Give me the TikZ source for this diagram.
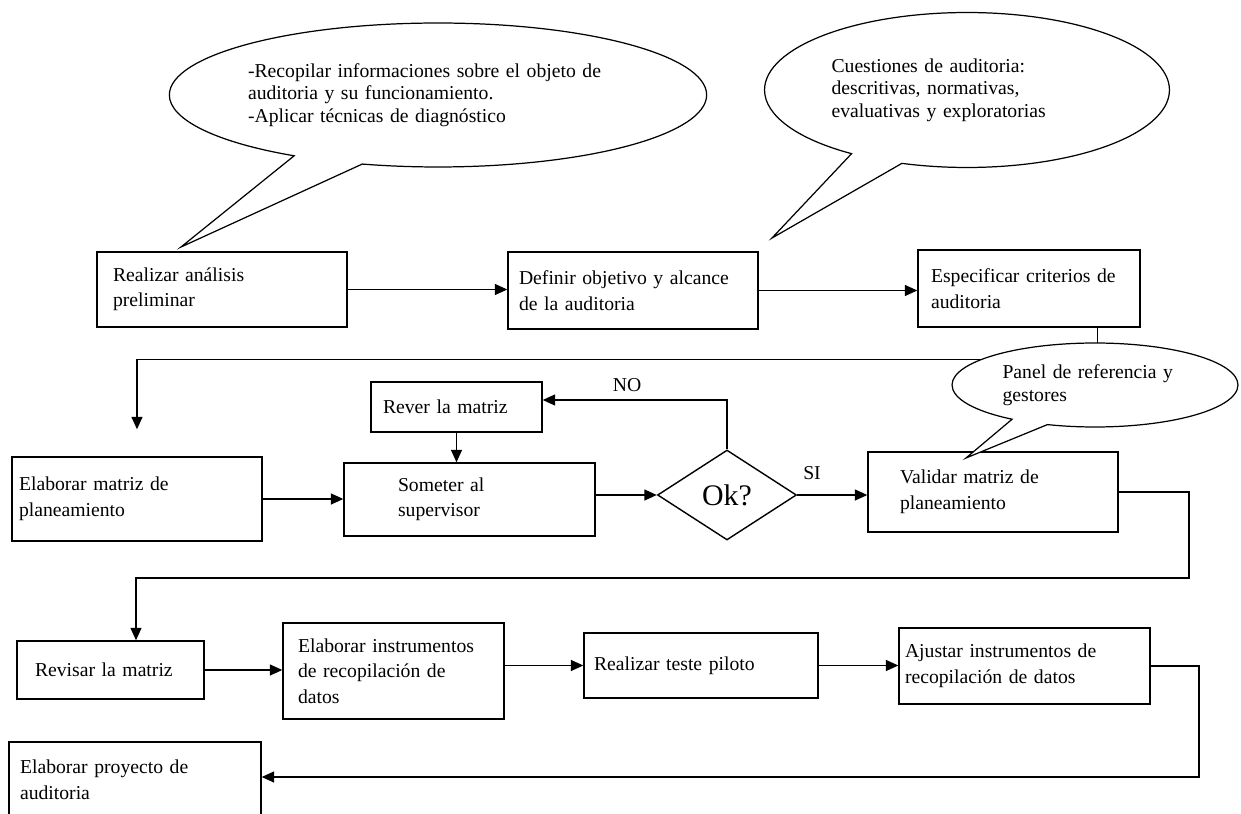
\documentclass[tikz,border=0pt]{standalone}
\usepackage{fontspec}
\setmainfont{Liberation Serif}
\usetikzlibrary {shapes.geometric, shapes.callouts, arrows.meta, calc}

\tikzset{
    paso/.style={draw, rectangle, align=left, inner sep=0pt, line width=0.8pt,
        font=\fontsize{11.2}{14.5}\selectfont},
    globo/.style={ellipse callout, draw, fill=white, align=left, inner sep=0pt,
        line width=0.7pt, callout pointer arc=16, font=\fontsize{11.2}{12.8}\selectfont},
    decision/.style={diamond, draw, inner sep=0pt, line width=0.8pt,
        minimum width=2.78cm, minimum height=1.8cm, font=\fontsize{17}{20}\selectfont},
    etiqueta/.style={inner sep=0pt, font=\fontsize{11.2}{14}\selectfont},
    flecha/.style={line width=0.8pt, -{Triangle[length=0.25cm, width=0.22cm]}}
}

\begin{document}
\begin{tikzpicture}[x=0.02cm, y=-0.02cm]
        \useasboundingbox (0,0) rectangle (1241,814);
        \clip (0,0) rectangle (1241,814);

        \node[paso, minimum width=5cm, minimum height=1.5cm, text width=4.36cm] (b1) at (222,289.5) {Realizar análisis\\preliminar};
        \node[paso, minimum width=5cm, minimum height=1.54cm, text width=4.56cm] (b2) at (633,290.5) {Definir objetivo y alcance\\de la auditoria};
        \node[paso, minimum width=4.44cm, minimum height=1.54cm, text width=3.92cm] (b3) at (1029,288.5) {Especificar criterios de\\auditoria};

        \node[paso, minimum width=5cm, minimum height=1.68cm, text width=4.72cm] (b4) at (137,499) {Elaborar matriz de\\planeamiento};
        \node[paso, minimum width=3.42cm, minimum height=1cm, text width=2.94cm] (rever) at (456.5,407) {Rever la matriz};
        \node[paso, minimum width=5.02cm, minimum height=1.46cm, text width=2.86cm] (b5) at (469.5,499.5) {Someter al\\supervisor};
        \node[decision] (ok) at (727,495) {Ok?};
        \node[paso, minimum width=5cm, minimum height=1.6cm, text width=3.72cm] (b6) at (993,492) {Validar matriz de\\planeamiento};

        \node[paso, minimum width=3.74cm, minimum height=1.16cm, text width=3.02cm] (b7) at (110.5,670) {Revisar la matriz};
        \node[paso, minimum width=4.42cm, minimum height=1.92cm, text width=3.82cm] (b8) at (393.5,671) {Elaborar instrumentos\\de recopilación de\\datos};
        \node[paso, minimum width=4.68cm, minimum height=1.3cm, text width=4.28cm] (b9) at (701,665.5) {Realizar teste piloto};
        \node[paso, minimum width=5.02cm, minimum height=1.52cm, text width=4.78cm] (b10) at (1024.5,666) {Ajustar instrumentos de\\recopilación de datos};
        \node[paso, minimum width=5.04cm, minimum height=1.52cm, text width=4.6cm] (b11) at (135,780) {Elaborar proyecto de\\auditoria};

        \node[etiqueta] (lblNo) at (627,385) {NO};
        \node[etiqueta] (lblSi) at (812,473) {SI};

        \coordinate (finA) at ([yshift=0.54cm]b4.north);
        \coordinate (giro) at (1189,578);
        \coordinate (giro2) at (1199,777);

        \draw[flecha] (b1.east) -- (b1.east -| b2.west);
        \draw[flecha] (b2.east) -- (b2.east -| b3.west);
        \draw[flecha] ([xshift=-0.86cm]b3.south east) -- ++(0,32) -| (finA);
        \draw[flecha] (b4.east) -- (b4.east -| b5.west);
        \draw[flecha] (ok.west -| b5.east) -- (ok.west);
        \draw[flecha] (ok.east) -- (ok.east -| b6.west);
        \draw[flecha] (ok.north) |- ([yshift=0.14cm]rever.east);
        \draw[flecha] (rever.south) -- (rever.south |- b5.north);
        \draw[flecha] (b6.east) -| (giro) -| ([xshift=0.51cm]b7.north);
        \draw[flecha] (b7.east) -- (b7.east -| b8.west);
        \draw[flecha] (b9.west -| b8.east) -- (b9.west);
        \draw[flecha] (b9.east) -- (b9.east -| b10.west);
        \draw[flecha] (b10.east) -| (giro2) -- (giro2 -| b11.east);

        \coordinate (puntaA) at (181,247);
        \coordinate (puntaB) at (772,238);
        \coordinate (puntaC) at (966,458);

        \node[globo, minimum width=10.68cm, minimum height=2.88cm, text width=7.6cm,
            callout absolute pointer={(puntaA)}] (g1) at (438,95)
            {-Recopilar informaciones sobre el objeto de\\auditoria y su funcionamiento.\\-Aplicar técnicas de diagnóstico};
        \node[globo, minimum width=8.1cm, minimum height=3.1cm, text width=5.42cm,
            callout absolute pointer={(puntaB)}] (g2) at (967,90)
            {Cuestiones de auditoria:\\descritivas, normativas,\\evaluativas y exploratorias};
        \node[globo, minimum width=5.72cm, minimum height=1.68cm, text width=3.7cm,
            callout absolute pointer={(puntaC)}] (g3) at (1095,385)
            {Panel de referencia y\\gestores};
    \end{tikzpicture}
\end{document}
